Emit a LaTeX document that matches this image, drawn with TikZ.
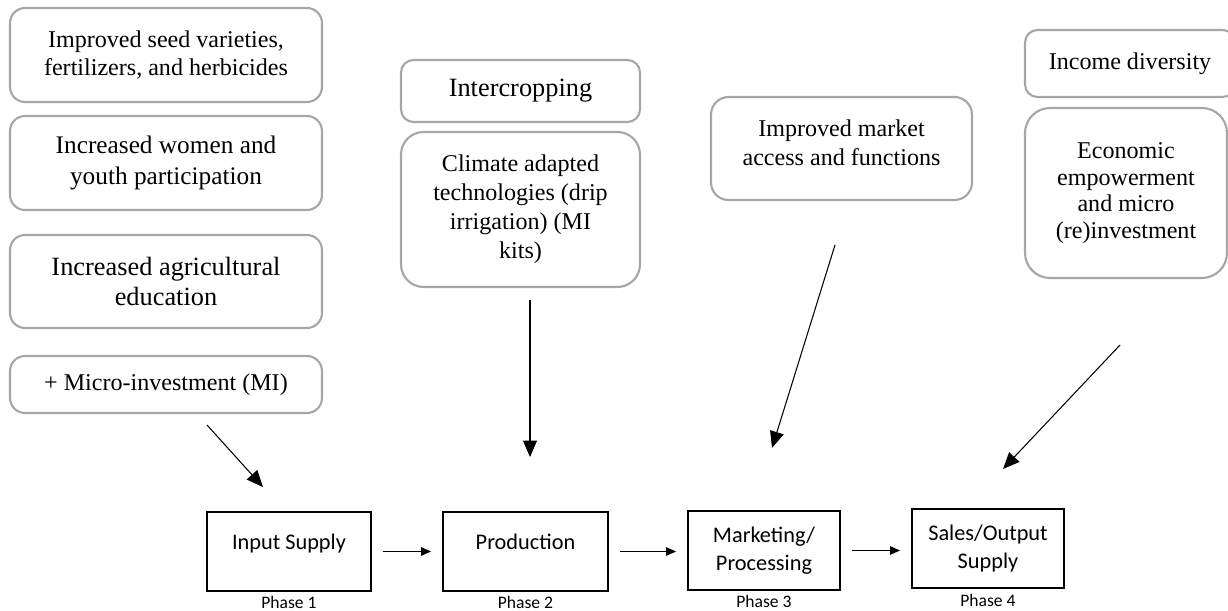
\documentclass[tikz,border=0pt]{standalone}
\usepackage{fontspec}
\setmainfont{Liberation Serif}
\newfontfamily\calibri{Carlito}
\usetikzlibrary{arrows.meta,positioning}
\begin{document}
\begin{tikzpicture}[x=0.02cm,y=-0.02cm,
  factor/.style={draw=gray!70,line width=1.2pt,rounded corners=#1,align=center,inner sep=0pt,
    font=\fontsize{13.7}{16.5}\selectfont},
  factor/.default=0.3cm,
  phase/.style={draw=black,line width=1.1pt,align=center,inner sep=0pt,minimum height=1.58cm,
    font=\calibri\fontsize{12.7}{15.9}\selectfont},
  single/.style={text height=0.25cm,text depth=0.35cm},
  tag/.style={font=\calibri\fontsize{10}{12}\selectfont,inner sep=0pt},
  link/.style={line width=0.6pt,-{Triangle[length=0.33cm,width=0.28cm]}},
  flow/.style={line width=0.6pt,-{Triangle[length=0.2cm,width=0.17cm]},shorten <=0.22cm,shorten >=0.22cm}]
\useasboundingbox (0,0) rectangle (1228,611);
% phase 1 factors
\node[factor,minimum width=6.24cm,minimum height=1.88cm] (seed) at (166,55) {Improved seed varieties,\\fertilizers, and herbicides};
\node[factor,minimum width=6.24cm,minimum height=1.88cm,font=\fontsize{14.4}{17.5}\selectfont] (youth) at (166,163) {Increased women and\\youth participation};
\node[factor,minimum width=6.24cm,minimum height=1.86cm,font=\fontsize{15}{17.2}\selectfont] (educ) at (166,281.5) {Increased agricultural\\education};
\node[factor,minimum width=6.24cm,minimum height=1.14cm] (micro) at (166,384.5) {+ Micro-investment (MI)};
% phase 2 factors
\node[factor=0.25cm,minimum width=4.78cm,minimum height=1.24cm,font=\fontsize{15}{17}\selectfont] (inter) at (520.5,91) {Intercropping};
\node[factor=0.45cm,minimum width=4.78cm,minimum height=3.1cm] (clim) at (520.5,209.5) {Climate adapted\\technologies (drip\\irrigation) (MI\\kits)};
% phase 3 factors
\node[factor=0.35cm,minimum width=5.22cm,minimum height=2.06cm,text depth=0.25cm] (mark) at (841.5,148.5) {Improved market\\access and functions};
% phase 4 factors
\node[factor=0.25cm,minimum width=4.2cm,minimum height=1.34cm] (income) at (1130,63.5) {Income diversity};
\node[factor=0.5cm,minimum width=4.04cm,minimum height=3.4cm,font=\fontsize{13.7}{15.2}\selectfont] (econ) at (1126,193) {Economic\\empowerment\\and micro\\(re)investment};
% value chain
\node[phase,single,minimum width=3.28cm] (inbox) at (289,551.5) {Input Supply};
\node[phase,single,minimum width=3.3cm] (prodbox) at (525.5,551.5) {Production};
\node[phase,minimum width=3.04cm] (markbox) at (764,550.5) {Marketing/\\Processing};
\node[phase,minimum width=3.04cm] (salebox) at (988,548.5) {Sales/Output\\Supply};
\node[tag,below=2pt of inbox] (p1) {Phase 1};
\node[tag,below=2pt of prodbox] (p2) {Phase 2};
\node[tag,below=2pt of markbox] (p3) {Phase 3};
\node[tag,below=3pt of salebox] (p4) {Phase 4};
\draw[flow] (inbox.east) -- (inbox.east -| prodbox.west);
\draw[flow] (prodbox.east) -- (prodbox.east -| markbox.west);
\draw[flow] (markbox.east) -- (markbox.east -| salebox.west);
% arrow ends
\coordinate (mi0) at (207,425);
\coordinate (mi1) at (263,487);
\coordinate (cl0) at (530,300);
\coordinate (cl1) at (530,457);
\coordinate (mk0) at (835,245);
\coordinate (mk1) at (772,448);
\coordinate (ec0) at (1120,345);
\coordinate (ec1) at (1003,469);
\draw[link] (mi0) -- (mi1);
\draw[link] (cl0) -- (cl1);
\draw[link] (mk0) -- (mk1);
\draw[link] (ec0) -- (ec1);
\end{tikzpicture}
\end{document}
